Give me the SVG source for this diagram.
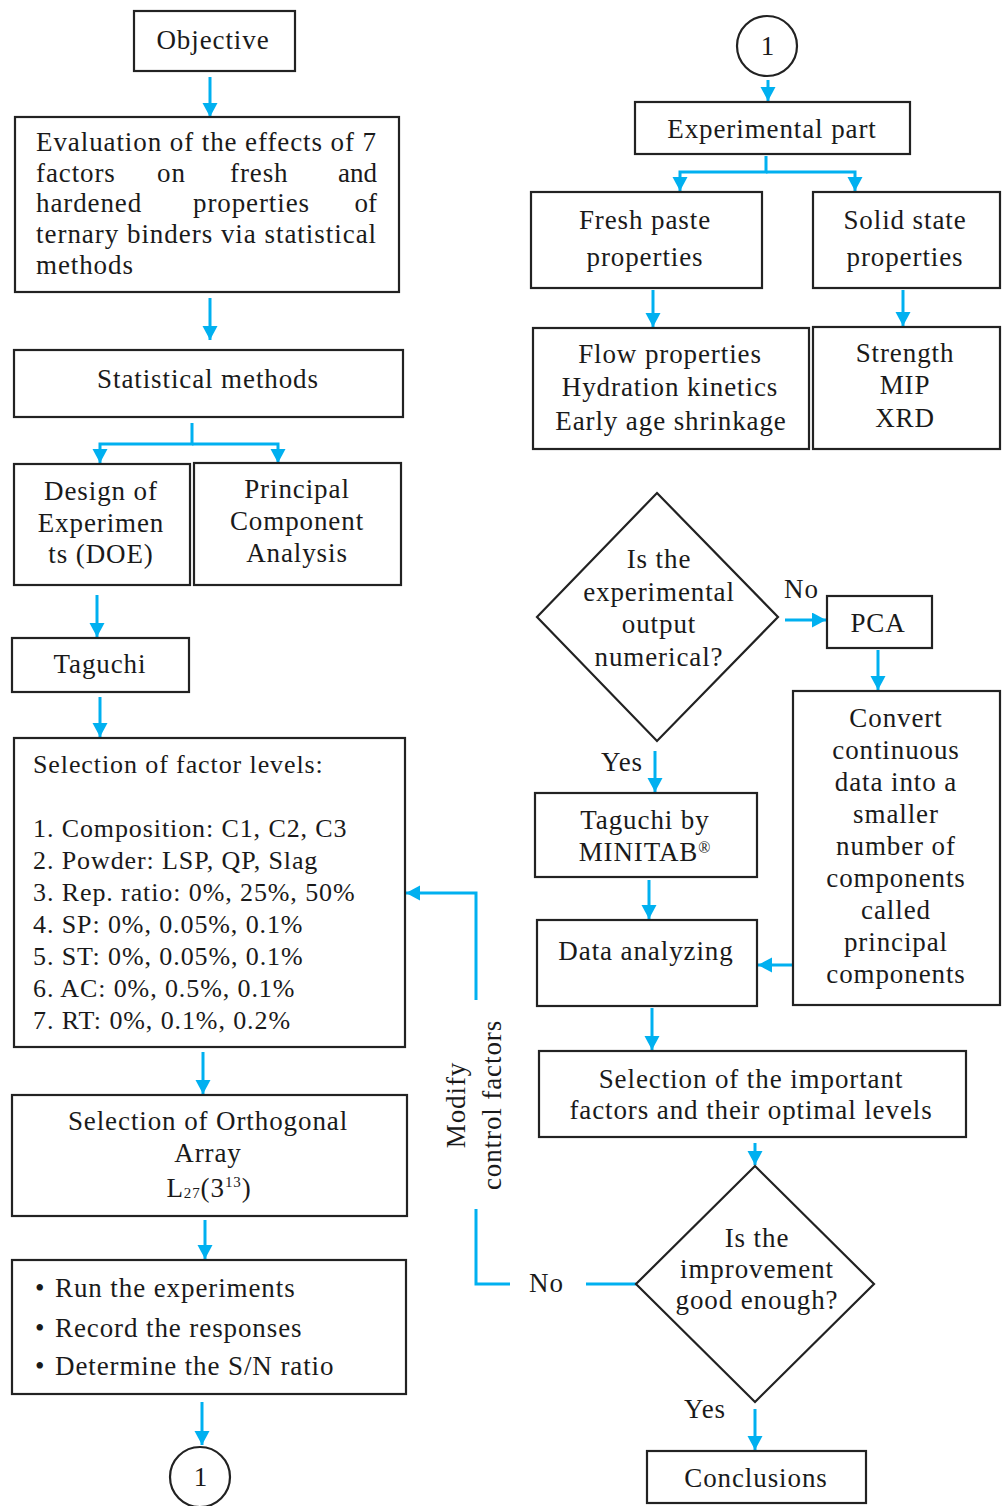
<svg xmlns="http://www.w3.org/2000/svg" width="1004" height="1506" viewBox="0 0 1004 1506">
<style>
text{font-family:"Liberation Serif","Times New Roman",serif;font-size:27px;fill:#1a1a1a;letter-spacing:0.9px}
.c{text-anchor:middle}
.s{font-size:26px}
.box{fill:#fff;stroke:#222;stroke-width:2.2}
.con{fill:none;stroke:#00b0f0;stroke-width:3}
</style>
<defs>
<marker id="ah" markerUnits="userSpaceOnUse" markerWidth="16" markerHeight="16" refX="14" refY="7.5" orient="auto">
<path d="M0,0 L14,7.5 L0,15 Z" fill="#00b0f0"/>
</marker>
</defs>
<rect width="1004" height="1506" fill="#fff"/>

<g id="connectors">
<path class="con" d="M210,77 V117" marker-end="url(#ah)"/>
<path class="con" d="M210,298 V340" marker-end="url(#ah)"/>
<path class="con" d="M192,423 V444 H100 V463" marker-end="url(#ah)"/>
<path class="con" d="M192,444 H278 V463" marker-end="url(#ah)"/>
<path class="con" d="M97,595 V637" marker-end="url(#ah)"/>
<path class="con" d="M100,697 V737" marker-end="url(#ah)"/>
<path class="con" d="M203,1052 V1094" marker-end="url(#ah)"/>
<path class="con" d="M205,1220 V1259" marker-end="url(#ah)"/>
<path class="con" d="M202,1402 V1445" marker-end="url(#ah)"/>
<path class="con" d="M768,80 V101" marker-end="url(#ah)"/>
<path class="con" d="M766,156 V172 H680 V191" marker-end="url(#ah)"/>
<path class="con" d="M766,172 H855 V191" marker-end="url(#ah)"/>
<path class="con" d="M653,290 V327" marker-end="url(#ah)"/>
<path class="con" d="M903,290 V326" marker-end="url(#ah)"/>
<path class="con" d="M785,620 H826" marker-end="url(#ah)"/>
<path class="con" d="M878,650 V690" marker-end="url(#ah)"/>
<path class="con" d="M655,751 V792" marker-end="url(#ah)"/>
<path class="con" d="M649,880 V919" marker-end="url(#ah)"/>
<path class="con" d="M793,965 H758" marker-end="url(#ah)"/>
<path class="con" d="M652,1008 V1050" marker-end="url(#ah)"/>
<path class="con" d="M755,1143 V1165" marker-end="url(#ah)"/>
<path class="con" d="M755,1409 V1450" marker-end="url(#ah)"/>
<path class="con" d="M636,1284 H586"/>
<path class="con" d="M510,1284 H476 V1209"/>
<path class="con" d="M476,1000 V893 H406" marker-end="url(#ah)"/>
</g>

<g id="objective">
<rect class="box" x="134" y="11" width="161" height="60"/>
<text class="c" x="213" y="49">Objective</text>
</g>

<g id="evaluation">
<rect class="box" x="15" y="117" width="384" height="175"/>
<text x="36" y="151" textLength="341" lengthAdjust="spacing">Evaluation of the effects of 7</text>
<text x="36" y="182">factors</text>
<text x="157" y="182">on</text>
<text x="230" y="182">fresh</text>
<text x="377" y="182" text-anchor="end" style="letter-spacing:0">and</text>
<text x="36" y="212">hardened</text>
<text x="193" y="212">properties</text>
<text x="377" y="212" text-anchor="end" style="letter-spacing:0">of</text>
<text x="36" y="243" textLength="341" lengthAdjust="spacing">ternary binders via statistical</text>
<text x="36" y="274">methods</text>
</g>

<g id="statistical-methods">
<rect class="box" x="14" y="350" width="389" height="67"/>
<text class="c" x="208" y="388">Statistical methods</text>
</g>

<g id="doe">
<rect class="box" x="14" y="464" width="176" height="121"/>
<text class="c" x="101" y="500">Design of</text>
<text class="c" x="101" y="532">Experimen</text>
<text class="c" x="101" y="563">ts (DOE)</text>
</g>

<g id="pca-left">
<rect class="box" x="194" y="463" width="207" height="122"/>
<text class="c" x="297" y="498">Principal</text>
<text class="c" x="297" y="530">Component</text>
<text class="c" x="297" y="562">Analysis</text>
</g>

<g id="taguchi">
<rect class="box" x="12" y="638" width="177" height="54"/>
<text class="c" x="100" y="673">Taguchi</text>
</g>

<g id="factor-levels">
<rect class="box" x="14" y="738" width="391" height="309"/>
<text class="s" x="33" y="773">Selection of factor levels:</text>
<text class="s" x="33" y="837">1. Composition: C1, C2, C3</text>
<text class="s" x="33" y="869">2. Powder: LSP, QP, Slag</text>
<text class="s" x="33" y="901">3. Rep. ratio: 0%, 25%, 50%</text>
<text class="s" x="33" y="933">4. SP: 0%, 0.05%, 0.1%</text>
<text class="s" x="33" y="965">5. ST: 0%, 0.05%, 0.1%</text>
<text class="s" x="33" y="997">6. AC: 0%, 0.5%, 0.1%</text>
<text class="s" x="33" y="1029">7. RT: 0%, 0.1%, 0.2%</text>
</g>

<g id="orthogonal-array">
<rect class="box" x="12" y="1095" width="395" height="121"/>
<text class="c" x="208" y="1130">Selection of Orthogonal</text>
<text class="c" x="208" y="1162">Array</text>
<text class="c" x="209" y="1197">L<tspan font-size="15" dy="1">27</tspan><tspan dy="-1">(3</tspan><tspan font-size="15" dy="-10">13</tspan><tspan dy="10">)</tspan></text>
</g>

<g id="run-experiments">
<rect class="box" x="12" y="1260" width="394" height="134"/>
<text x="35" y="1297">•</text>
<text x="55" y="1297">Run the experiments</text>
<text x="35" y="1337">•</text>
<text x="55" y="1337">Record the responses</text>
<text x="35" y="1375">•</text>
<text x="55" y="1375">Determine the S/N ratio</text>
</g>

<g id="connector-1-bottom">
<circle cx="200" cy="1477" r="30" fill="#fff" stroke="#222" stroke-width="2.2"/>
<text class="c" x="201" y="1486">1</text>
</g>

<g id="connector-1-top">
<circle cx="767" cy="46" r="30" fill="#fff" stroke="#222" stroke-width="2.2"/>
<text class="c" x="768" y="55">1</text>
</g>

<g id="experimental-part">
<rect class="box" x="635" y="102" width="275" height="52"/>
<text class="c" x="772" y="138">Experimental part</text>
</g>

<g id="fresh-paste">
<rect class="box" x="531" y="192" width="231" height="96"/>
<text class="c" x="645" y="229">Fresh paste</text>
<text class="c" x="645" y="266">properties</text>
</g>

<g id="solid-state">
<rect class="box" x="813" y="192" width="187" height="96"/>
<text class="c" x="905" y="229">Solid state</text>
<text class="c" x="905" y="266">properties</text>
</g>

<g id="flow-properties">
<rect class="box" x="533" y="328" width="276" height="121"/>
<text class="c" x="670" y="363">Flow properties</text>
<text class="c" x="670" y="396">Hydration kinetics</text>
<text class="c" x="671" y="430">Early age shrinkage</text>
</g>

<g id="strength">
<rect class="box" x="813" y="327" width="187" height="122"/>
<text class="c" x="905" y="362">Strength</text>
<text class="c" x="905" y="394">MIP</text>
<text class="c" x="905" y="427">XRD</text>
</g>

<g id="decision-numerical">
<polygon points="657,493 778,617 657,741 537,617" fill="#fff" stroke="#222" stroke-width="2.2"/>
<text class="c" x="659" y="568">Is the</text>
<text class="c" x="659" y="601">experimental</text>
<text class="c" x="659" y="633">output</text>
<text class="c" x="659" y="666">numerical?</text>
</g>

<g id="label-no-1"><text x="784" y="598">No</text></g>
<g id="label-yes-1"><text x="601" y="771">Yes</text></g>

<g id="pca-right">
<rect class="box" x="827" y="596" width="105" height="52"/>
<text class="c" x="878" y="632">PCA</text>
</g>

<g id="convert">
<rect class="box" x="793" y="691" width="207" height="314"/>
<text class="c" x="896" y="727">Convert</text>
<text class="c" x="896" y="759">continuous</text>
<text class="c" x="896" y="791">data into a</text>
<text class="c" x="896" y="823">smaller</text>
<text class="c" x="896" y="855">number of</text>
<text class="c" x="896" y="887">components</text>
<text class="c" x="896" y="919">called</text>
<text class="c" x="896" y="951">principal</text>
<text class="c" x="896" y="983">components</text>
</g>

<g id="taguchi-minitab">
<rect class="box" x="535" y="793" width="222" height="84"/>
<text class="c" x="645" y="829">Taguchi by</text>
<text class="c" x="645" y="861">MINITAB<tspan font-size="16" dy="-8">®</tspan></text>
</g>

<g id="data-analyzing">
<rect class="box" x="537" y="920" width="220" height="86"/>
<text class="c" x="646" y="960">Data analyzing</text>
</g>

<g id="selection-important">
<rect class="box" x="539" y="1051" width="427" height="86"/>
<text class="c" x="751" y="1088">Selection of the important</text>
<text class="c" x="751" y="1119">factors and their optimal levels</text>
</g>

<g id="decision-improvement">
<polygon points="755,1166 874,1284 755,1402 636,1284" fill="#fff" stroke="#222" stroke-width="2.2"/>
<text class="c" x="757" y="1247">Is the</text>
<text class="c" x="757" y="1278">improvement</text>
<text class="c" x="757" y="1309">good enough?</text>
</g>

<g id="label-no-2"><text x="529" y="1292">No</text></g>
<g id="label-yes-2"><text x="684" y="1418">Yes</text></g>

<g id="label-modify">
<text class="c" transform="translate(465,1105) rotate(-90)">Modify</text>
<text class="c" transform="translate(501,1105) rotate(-90)">control factors</text>
</g>

<g id="conclusions">
<rect class="box" x="647" y="1451" width="219" height="52"/>
<text class="c" x="756" y="1487">Conclusions</text>
</g>
</svg>
